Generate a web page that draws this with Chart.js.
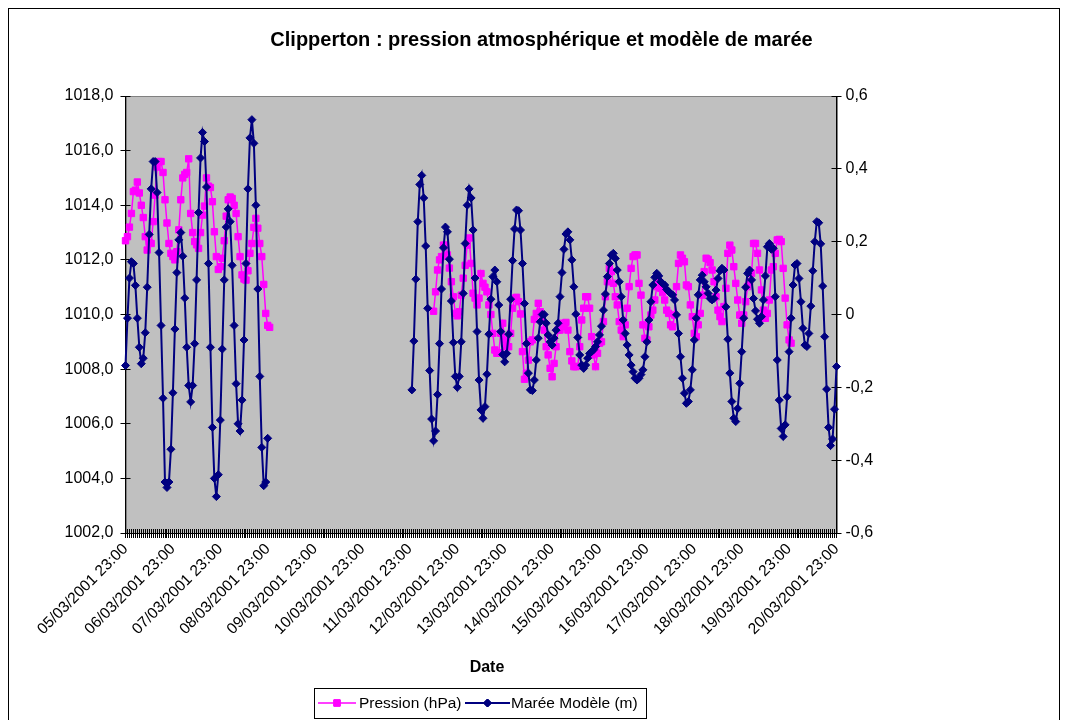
<!DOCTYPE html>
<html>
<head>
<meta charset="utf-8">
<script src="https://cdn.jsdelivr.net/npm/chart.js@4/dist/chart.umd.min.js"></script>
<style>
  html, body { margin: 0; padding: 0; background: #fff; }
  canvas { display: block; }
</style>
</head>
<body>
<canvas id="chart" width="1068" height="720"></canvas>
<script>
// tick labels (one per day, data is hourly)
const dayLabels = ['05/03/2001 23:00', '06/03/2001 23:00', '07/03/2001 23:00', '08/03/2001 23:00',
  '09/03/2001 23:00', '10/03/2001 23:00', '11/03/2001 23:00', '12/03/2001 23:00', '13/03/2001 23:00',
  '14/03/2001 23:00', '15/03/2001 23:00', '16/03/2001 23:00', '17/03/2001 23:00', '18/03/2001 23:00',
  '19/03/2001 23:00', '20/03/2001 23:00'];
const hoursPerDay = 24;
const nCategories = 361;

// Pression (hPa) - first run starts on the first category
const pressionRun1 = [1012.7, 1012.85, 1013.2, 1013.7, 1014.5, 1014.55, 1014.85, 1014.45, 1014.0, 1013.55,
  1012.85, 1012.36, 1012.64, 1012.6, 1013.4, 1014.37, 1015.4, 1015.6, 1015.6, 1015.2,
  1014.2, 1013.35, 1012.6, 1012.24, 1012.12, 1012.0, 1012.3, 1013.1, 1014.2, 1015.0,
  1015.13, 1015.2, 1015.7, 1013.7, 1013.0, 1012.67, 1012.55, 1012.42, 1013.0, 1013.64,
  1013.97, 1015.0, 1014.7, 1014.65, 1014.13, 1013.03, 1012.12, 1011.65, 1011.75, 1012.06,
  1012.7, 1013.6, 1014.2, 1014.3, 1014.25, 1014.0, 1013.7, 1012.85, 1012.12, 1011.45,
  1011.3, 1011.26, 1011.6, 1012.24, 1012.6, 1013.19, 1013.52, 1013.16, 1012.6, 1012.12,
  1011.1, 1010.04, 1009.6, 1009.53];
const pressionRun2Start = 156;
const pressionRun2 = [1010.12, 1010.83, 1011.63, 1012.0, 1012.12, 1012.54, 1012.54, 1012.18, 1011.7, 1011.2,
  1010.65, 1010.04, 1009.95, 1010.1, 1010.71, 1011.33, 1011.8, 1012.54, 1012.8, 1011.87,
  1010.78, 1010.6, 1010.35, 1010.6, 1011.5, 1011.14, 1011.0, 1010.83, 1010.35, 1010.0,
  1009.31, 1008.7, 1008.58, 1008.6, 1009.31, 1009.68, 1009.07, 1008.82, 1008.82, 1009.31,
  1010.23, 1010.6, 1010.63, 1010.47, 1010.02, 1008.64, 1007.63, 1007.85, 1008.33, 1009.0,
  1009.07, 1009.82, 1010.04, 1010.41, 1010.1, 1009.82, 1009.43, 1008.82, 1008.52, 1008.03,
  1007.72, 1008.21, 1008.82, 1009.43, 1009.43, 1009.68, 1009.55, 1009.71, 1009.43, 1008.64,
  1008.3, 1008.09, 1008.09, 1008.1, 1008.82, 1009.8, 1010.23, 1010.65, 1010.65, 1010.23,
  1009.19, 1008.52, 1008.09, 1008.58, 1008.95, 1009.0, 1009.74, 1010.65, 1011.2, 1011.69,
  1011.57, 1011.14, 1010.65, 1010.35, 1009.74, 1009.43, 1009.19, 1009.62, 1010.23, 1011.02,
  1011.69, 1012.12, 1012.18, 1012.18, 1011.14, 1010.71, 1009.62, 1009.13, 1009.07, 1009.55,
  1009.98, 1010.16, 1010.53, 1011.02, 1011.2, 1010.96, 1010.8, 1010.53, 1010.16, 1010.04,
  1009.62, 1009.55, 1009.98, 1011.02, 1011.87, 1012.18, 1012.06, 1011.93, 1011.08, 1011.02,
  1010.35, 1009.92, 1009.31, 1009.19, 1009.62, 1010.04, 1010.71, 1011.57, 1012.06, 1012.02,
  1011.9, 1011.63, 1011.2, 1010.65, 1010.16, 1009.92, 1009.74, 1010.29, 1010.96, 1012.24,
  1012.54, 1012.36, 1011.75, 1011.14, 1010.53, 1009.98, 1009.68, 1009.98, 1010.47, 1011.02,
  1011.2, 1011.51, 1012.6, 1012.6, 1012.24, 1011.63, 1010.9, 1010.16, 1009.86, 1010.04,
  1010.53, 1011.63, 1011.75, 1012.24, 1012.73, 1012.75, 1012.67, 1011.69, 1010.6, 1009.62,
  1009.07, 1008.95];

// Marée Modèle (m) - second run ends on the last category
const mareeRun1 = [-0.14, -0.01, 0.10, 0.145, 0.14, 0.08, -0.01, -0.09, -0.135, -0.12,
  -0.05, 0.075, 0.22, 0.345, 0.42, 0.42, 0.335, 0.17, -0.03, -0.23,
  -0.46, -0.475, -0.46, -0.37, -0.215, -0.04, 0.115, 0.205, 0.225, 0.16,
  0.045, -0.09, -0.195, -0.24, -0.195, -0.08, 0.095, 0.28, 0.43, 0.50,
  0.475, 0.35, 0.14, -0.09, -0.31, -0.45, -0.50, -0.44, -0.29, -0.095,
  0.095, 0.24, 0.29, 0.255, 0.135, -0.03, -0.19, -0.30, -0.32, -0.235,
  -0.07, 0.14, 0.345, 0.485, 0.535, 0.47, 0.30, 0.07, -0.17, -0.365,
  -0.47, -0.46, -0.34];
const mareeRun2 = [-0.207, -0.073, 0.097, 0.255, 0.357, 0.382, 0.32, 0.188, 0.017, -0.154,
  -0.287, -0.347, -0.32, -0.22, -0.08, 0.07, 0.183, 0.24, 0.227, 0.152,
  0.037, -0.077, -0.17, -0.2, -0.17, -0.075, 0.058, 0.195, 0.30, 0.345,
  0.32, 0.232, 0.10, -0.047, -0.18, -0.262, -0.285, -0.253, -0.164, -0.054,
  0.042, 0.104, 0.122, 0.09, 0.026, -0.047, -0.11, -0.13, -0.107, -0.054,
  0.042, 0.148, 0.235, 0.287, 0.285, 0.232, 0.14, 0.03, -0.08, -0.161,
  -0.207, -0.209, -0.18, -0.125, -0.065, -0.02, 0.0, 0.0, -0.024, -0.056,
  -0.075, -0.084, -0.065, -0.043, -0.024, 0.049, 0.115, 0.179, 0.221, 0.227,
  0.205, 0.15, 0.076, 0.001, -0.063, -0.111, -0.139, -0.148, -0.139, -0.12,
  -0.107, -0.102, -0.097, -0.088, -0.075, -0.056, -0.032, 0.012, 0.056, 0.104,
  0.14, 0.163, 0.168, 0.154, 0.122, 0.09, 0.049, -0.015, -0.052, -0.084,
  -0.111, -0.139, -0.157, -0.175, -0.18, -0.175, -0.165, -0.152, -0.116, -0.075,
  -0.015, 0.035, 0.081, 0.102, 0.113, 0.106, 0.09, 0.085, 0.081, 0.069,
  0.063, 0.058, 0.054, 0.04, -0.001, -0.052, -0.116, -0.175, -0.216, -0.244,
  -0.239, -0.207, -0.152, -0.07, -0.01, 0.054, 0.095, 0.108, 0.09, 0.076,
  0.058, 0.044, 0.04, 0.044, 0.067, 0.099, 0.12, 0.127, 0.122, 0.021,
  -0.068, -0.161, -0.239, -0.285, -0.294, -0.258, -0.189, -0.102, -0.01, 0.075,
  0.113, 0.122, 0.095, 0.044, 0.01, -0.013, -0.024, -0.006, 0.04, 0.106,
  0.186, 0.195, 0.179, 0.182, 0.049, -0.125, -0.235, -0.313, -0.335, -0.303,
  -0.226, -0.102, -0.01, 0.081, 0.136, 0.14, 0.099, 0.035, -0.038, -0.084,
  -0.088, -0.052, 0.023, 0.12, 0.2, 0.255, 0.252, 0.194, 0.078, -0.061,
  -0.205, -0.31, -0.36, -0.342, -0.26, -0.143];

// build the full category series (gaps are null)
const categories = [];
for (let i = 0; i < nCategories; i++) {
  categories.push(i % hoursPerDay === 0 ? dayLabels[i / hoursPerDay] : '');
}
const nulls = n => new Array(Math.max(0, n)).fill(null);
const pression = pressionRun1
  .concat(nulls(pressionRun2Start - pressionRun1.length), pressionRun2);
const pressionAll = pression.concat(nulls(nCategories - pression.length));
const maree = mareeRun1
  .concat(nulls(nCategories - mareeRun1.length - mareeRun2.length), mareeRun2);

const FONT = "'Liberation Sans', Arial, sans-serif";
const comma = v => v.toFixed(1).replace('.', ',');

// grey plot area + outer frame
const plotBackground = {
  id: 'plotBackground',
  beforeDraw(chart) {
    const { ctx, chartArea: a } = chart;
    ctx.save();
    ctx.fillStyle = '#fff';
    ctx.fillRect(0, 0, chart.width, chart.height);
    ctx.strokeStyle = '#000';
    ctx.lineWidth = 1;
    ctx.strokeRect(8.5, 8.5, 1051, 730);
    ctx.fillStyle = '#C0C0C0';
    ctx.fillRect(a.left, a.top, a.right - a.left, a.bottom - a.top);
    ctx.strokeStyle = '#808080';
    ctx.strokeRect(Math.round(a.left) + 0.5, Math.round(a.top) + 0.5, Math.round(a.right - a.left), Math.round(a.bottom - a.top));
    ctx.restore();
  }
};

// Excel style "cross" tick marks: inner part of each tick
const innerTicks = {
  id: 'innerTicks',
  beforeDatasetsDraw(chart) {
    const { ctx, chartArea: a, scales } = chart;
    const al = p => Math.round(p - 0.5) + 0.5;
    ctx.save();
    ctx.strokeStyle = '#000';
    ctx.lineWidth = 1;
    ctx.beginPath();
    scales.x.ticks.forEach((t, i) => {
      const px = al(scales.x.getPixelForTick(i));
      ctx.moveTo(px, a.bottom);
      ctx.lineTo(px, a.bottom - 4);
    });
    scales.y.ticks.forEach((t, i) => {
      const py = al(scales.y.getPixelForTick(i));
      ctx.moveTo(a.left, py);
      ctx.lineTo(a.left + 5, py);
    });
    scales.y1.ticks.forEach((t, i) => {
      const py = al(scales.y1.getPixelForTick(i));
      ctx.moveTo(a.right, py);
      ctx.lineTo(a.right - 5, py);
    });
    ctx.stroke();
    ctx.restore();
  }
};

// axis title "Date" and the legend box like the Excel one
const excelLegend = {
  id: 'excelLegend',
  afterDraw(chart) {
    const ctx = chart.ctx;
    const ds = chart.data.datasets;
    ctx.save();
    ctx.fillStyle = '#000';
    ctx.font = 'bold 16px ' + FONT;
    ctx.textAlign = 'center';
    ctx.textBaseline = 'middle';
    ctx.fillText('Date', 487, 668);

    const items = [
      { d: ds[1], x0: 318, x1: 356, tx: 359 },
      { d: ds[0], x0: 465, x1: 510, tx: 511 }
    ];
    const cy = 703;
    ctx.fillStyle = '#fff';
    ctx.fillRect(314, 688, 332, 30);
    ctx.strokeStyle = '#000';
    ctx.lineWidth = 1;
    ctx.strokeRect(314.5, 688.5, 332, 30);
    items.forEach(it => {
      ctx.strokeStyle = it.d.borderColor;
      ctx.lineWidth = it.d.borderWidth;
      ctx.beginPath();
      ctx.moveTo(it.x0, cy);
      ctx.lineTo(it.x1, cy);
      ctx.stroke();
      ctx.lineWidth = 1;
      Chart.helpers.drawPoint(ctx, {
        pointStyle: it.d.pointStyle, radius: it.d.pointRadius, borderWidth: 1, rotation: 0
      }, (it.x0 + it.x1) / 2, cy);
      ctx.fillStyle = it.d.backgroundColor;
      ctx.fill();
      ctx.stroke();
      ctx.fillStyle = '#000';
      ctx.font = '15.5px ' + FONT;
      ctx.textBaseline = 'middle';
      ctx.textAlign = 'left';
      ctx.fillText(it.d.label, it.tx, cy + 1);
    });
    ctx.restore();
  }
};

new Chart(document.getElementById('chart'), {
  type: 'line',
  data: {
    labels: categories,
    datasets: [
      {
        label: 'Marée Modèle (m)',
        data: maree,
        yAxisID: 'y1',
        borderColor: '#000080',
        backgroundColor: '#000080',
        borderWidth: 2,
        pointStyle: 'rectRot',
        pointRadius: 4,
        pointBorderWidth: 1,
        spanGaps: false,
        tension: 0,
        order: 0,
        clip: 10
      },
      {
        label: 'Pression (hPa)',
        data: pressionAll,
        yAxisID: 'y',
        borderColor: '#FF00FF',
        backgroundColor: '#FF00FF',
        borderWidth: 1.5,
        pointStyle: 'rect',
        pointRadius: 4.5,
        pointBorderWidth: 1,
        spanGaps: false,
        tension: 0,
        order: 1,
        clip: 10
      }
    ]
  },
  options: {
    responsive: false,
    devicePixelRatio: 1,
    animation: false,
    events: [],
    layout: { padding: { left: 15, right: 0, top: 0, bottom: 0 } },
    plugins: {
      legend: { display: false },
      tooltip: { enabled: false },
      title: {
        display: true,
        text: 'Clipperton : pression atmosphérique et modèle de marée',
        color: '#000',
        font: { family: FONT, size: 20, weight: 'bold' },
        padding: { top: 28, bottom: 44 }
      }
    },
    scales: {
      x: {
        type: 'category',
        offset: false,
        grid: { display: true, drawOnChartArea: false, drawTicks: true, tickLength: 5, color: '#000', lineWidth: 1 },
        border: { display: true, color: '#000', width: 1 },
        ticks: {
          autoSkip: false, maxRotation: 45, minRotation: 45, padding: 2, color: '#000',
          font: { family: FONT, size: 15.5 }
        },
        afterFit: s => { s.height = 187; }
      },
      y: {
        position: 'left',
        min: 1002, max: 1018,
        grid: { drawOnChartArea: false, tickLength: 5, color: '#000' },
        border: { display: true, color: '#000', width: 1 },
        ticks: { stepSize: 2, padding: 7, color: '#000', font: { family: FONT, size: 16 }, callback: v => comma(v) },
        afterFit: s => { s.width = 110.5; }
      },
      y1: {
        position: 'right',
        min: -0.6, max: 0.6,
        grid: { drawOnChartArea: false, tickLength: 5, color: '#000' },
        border: { display: true, color: '#000', width: 1 },
        ticks: {
          stepSize: 0.2, padding: 4, color: '#000', font: { family: FONT, size: 16 },
          callback: v => Math.abs(v) < 1e-9 ? '0' : comma(v)
        },
        afterFit: s => { s.width = 231.5; }
      }
    }
  },
  plugins: [plotBackground, innerTicks, excelLegend]
});
</script>
</body>
</html>
